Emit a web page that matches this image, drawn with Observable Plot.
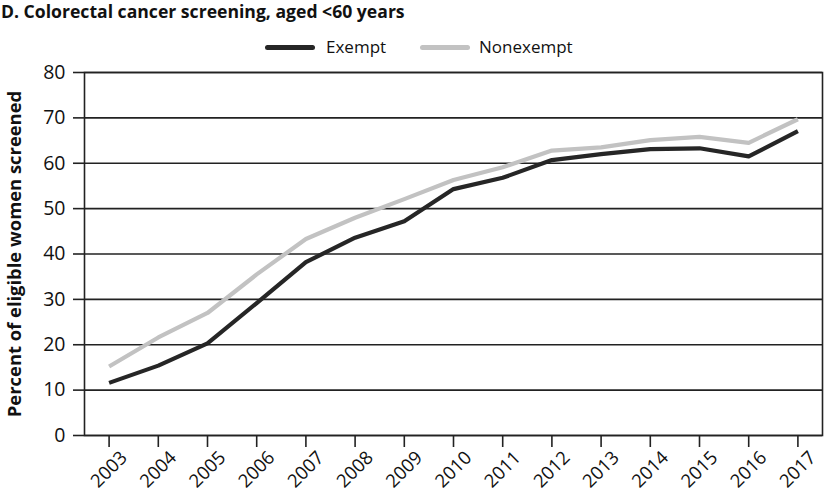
<!DOCTYPE html>
<html><head><meta charset="utf-8">
<script src="https://cdn.jsdelivr.net/npm/d3@7"></script>
<script src="https://cdn.jsdelivr.net/npm/@observablehq/plot@0.6"></script>
<style>
body{margin:0;background:#fff;font-family:"Open Sans",sans-serif;color:#111;}
#wrap{position:relative;width:825px;height:498px;overflow:hidden;}
#title{position:absolute;left:1px;top:0px;font-weight:700;font-size:17.6px;line-height:22px;white-space:nowrap;}
.leg{position:absolute;top:35px;height:24px;font-size:17px;line-height:24px;white-space:nowrap;}
.sw{position:absolute;top:10px;height:5px;border-radius:3px;}
#chart{position:absolute;left:0;top:58px;}
</style></head>
<body><div id="wrap">
<div id="title">D. Colorectal cancer screening, aged &lt;60 years</div>
<div id="legend"></div>
<div id="chart"></div>
</div>
<script>
const years = [2003,2004,2005,2006,2007,2008,2009,2010,2011,2012,2013,2014,2015,2016,2017];
const exempt = [11.6,15.4,20.3,29.2,38.2,43.6,47.2,54.3,56.8,60.7,62.0,63.1,63.3,61.5,67.1];
const nonexempt = [15.2,21.6,27.0,35.5,43.3,48.0,52.1,56.3,59.1,62.8,63.5,65.1,65.8,64.5,69.7];
const seriesNames = ["Exempt","Nonexempt"];
const seriesColors = ["#262626","#c2c2c2"];
const yTicks = [0,10,20,30,40,50,60,70,80];
const yLabel = "Percent of eligible women screened";

const rows = [];
years.forEach((y,i)=>{
  rows.push({year:y, value:exempt[i], series:seriesNames[0]});
  rows.push({year:y, value:nonexempt[i], series:seriesNames[1]});
});

// legend
const legend = document.getElementById("legend");
const legPos = [{sw:265,tx:326},{sw:420,tx:479}];
seriesNames.forEach((n,i)=>{
  const s = document.createElement("div");
  s.className="sw"; s.style.left=legPos[i].sw+"px"; s.style.width="50px"; s.style.top="45px"; s.style.background=seriesColors[i];
  legend.appendChild(s);
  const t = document.createElement("div");
  t.className="leg"; t.style.left=legPos[i].tx+"px"; t.textContent=n;
  legend.appendChild(t);
});

const chart = Plot.plot({
  width: 825,
  height: 440,
  marginTop: 14,
  marginLeft: 84,
  marginRight: 3,
  marginBottom: 63,
  style: {fontFamily: '"Open Sans", sans-serif', fontSize: "17px", color: "#111", background: "transparent"},
  x: {type: "linear", domain: [2002.5, 2017.5]},
  y: {domain: [0, 80]},
  color: {domain: seriesNames, range: seriesColors},
  marks: [
    Plot.ruleY(yTicks, {stroke: "#222", strokeWidth: 1.6}),
    Plot.frame({stroke: "#222", strokeWidth: 1.6}),
    Plot.lineY(rows, {x: "year", y: "value", z: "series", stroke: "series", strokeWidth: 4.2, strokeLinecap: "butt"}),
    Plot.axisY({ticks: yTicks, tickSize: 11, tickPadding: 8, stroke: "#222", strokeWidth: 1.6, fontSize: 19.5,
      label: yLabel, labelAnchor: "center", labelArrow: "none", labelOffset: 77}),
    Plot.axisX({ticks: years, tickFormat: d => String(d), tickSize: 12, tickRotate: -45, stroke: "#222", strokeWidth: 1.6,
      fontSize: 18.5, textAnchor: "middle", lineAnchor: "middle", tickPadding: 22, label: null})
  ]
});
document.getElementById("chart").appendChild(chart);
// bold y label
chart.querySelectorAll("g[aria-label='y-axis label'] text").forEach(t=>{t.style.fontWeight="700";t.style.fontSize="18.4px";});
</script>
</body></html>
